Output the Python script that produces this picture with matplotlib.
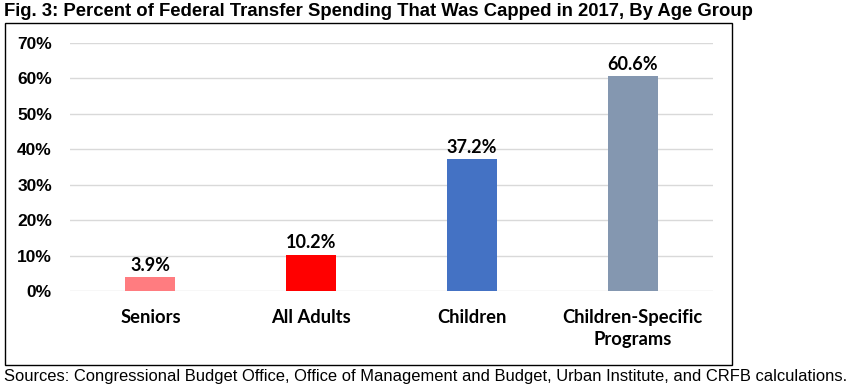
import matplotlib
matplotlib.use("Agg")
import matplotlib.pyplot as plt
from matplotlib.patches import Rectangle

categories = ["Seniors", "All Adults", "Children", "Children-Specific\nPrograms"]
values = [3.9, 10.2, 37.2, 60.6]
colors = ["#FF7C80", "#FF0000", "#4472C4", "#8497B0"]
yticks = [0, 10, 20, 30, 40, 50, 60, 70]

W, H = 849, 391
fig = plt.figure(figsize=(W / 100, H / 100), dpi=100)

# plot area in pixel coords
x0, x1 = 70, 713
y0, y1 = 291, 43
ax = fig.add_axes([x0 / W, 1 - y0 / H, (x1 - x0) / W, (y0 - y1) / H])

calibri = ["Lato", "DejaVu Sans"]
arial = ["Liberation Sans", "DejaVu Sans"]

x = range(len(categories))
ax.bar(x, values, width=0.31, color=colors, zorder=3)
for xi, v in zip(x, values):
    ax.text(xi, v + 1.0, f"{v:.1f}%", ha="center", va="bottom",
            fontsize=13, fontweight="bold", family=calibri)

ax.set_xlim(-0.5, 3.5)
ax.set_ylim(0, 70)
ax.set_yticks(yticks)
ax.set_yticklabels([f"{t}%" for t in yticks], fontsize=12.5,
                   fontweight="bold", family=arial)
ax.set_xticks(list(x))
ax.set_xticklabels(categories, fontsize=13.2, fontweight="bold",
                   family=calibri, linespacing=1.35, va="top")
ax.tick_params(axis="both", length=0)
ax.tick_params(axis="y", pad=13)
ax.tick_params(axis="x", pad=13)
ax.grid(axis="y", color="#D9D9D9", linewidth=1, zorder=0)
for s in ax.spines.values():
    s.set_visible(False)

# outer frame
fig.patches.append(Rectangle((5 / W, 1 - 365 / H), 727 / W, 342 / H,
                             transform=fig.transFigure, fill=False,
                             edgecolor="black", linewidth=1))

fig.text(4 / W, 1 - 12 / H,
         "Fig. 3: Percent of Federal Transfer Spending That Was Capped in 2017, By Age Group",
         ha="left", va="center", fontsize=13.3, fontweight="bold", family=arial)
fig.text(4 / W, 1 - 376 / H,
         "Sources: Congressional Budget Office, Office of Management and Budget, Urban Institute, and CRFB calculations.",
         ha="left", va="center", fontsize=11.9, family=arial)

fig.savefig("out.png", dpi=100)
